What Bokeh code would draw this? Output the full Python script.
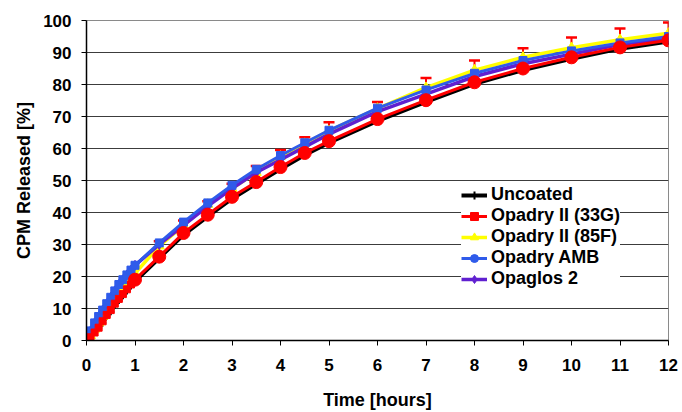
from bokeh.plotting import figure
from bokeh.models import (Range1d, FixedTicker, Legend, LegendItem, Whisker,
                          TeeHead, ColumnDataSource)
from bokeh.embed import file_html
from bokeh.resources import INLINE

# ---- data ----
time_h = [0, 0.083, 0.167, 0.25, 0.333, 0.417, 0.5, 0.583, 0.667, 0.75, 0.833,
          0.917, 1, 1.5, 2, 2.5, 3, 3.5, 4, 4.5, 5, 6, 7, 8, 9, 10, 11, 12]

uncoated = [0, 1, 2.5, 4, 5.5, 7.5, 9, 11, 12.5, 14, 15.5, 17, 18.5, 25.8, 33.0,
            38.8, 44.3, 49.0, 53.6, 58.0, 61.8, 68.6, 74.6, 80.2, 84.5, 88.0,
            91.2, 93.4]
opadry_33g = [0, 1, 2.5, 4, 6, 8, 9.5, 11.5, 13, 14.5, 16, 17.5, 19, 26.2, 33.6,
              39.3, 44.9, 49.5, 54.2, 58.6, 62.3, 69.2, 75.1, 80.7, 85.0, 88.5,
              91.6, 93.8]
opadry_85f = [0, 1.5, 3.5, 5.5, 7.5, 9.5, 11.5, 13, 15, 16.5, 18, 19.5, 21, 29.5,
              36.0, 42.5, 47.5, 52.5, 57.5, 61.5, 65.5, 72.5, 79.0, 84.5, 88.5,
              91.5, 94.0, 96.0]
opadry_amb = [0, 3, 5.5, 7.5, 9.5, 11.5, 13.5, 15.5, 17.5, 19, 20.5, 22, 23.5,
              30.5, 37.0, 43.0, 48.5, 53.5, 57.8, 61.8, 65.7, 72.6, 78.3, 83.5,
              87.5, 90.5, 93.0, 95.0]
opaglos_2 = [0, 3, 5.5, 7.5, 9.5, 11.5, 13.5, 15.5, 17.5, 19, 20.5, 22, 23.5,
             30.0, 36.0, 42.0, 47.5, 52.5, 56.5, 60.5, 64.5, 71.5, 77.0, 82.5,
             86.5, 89.5, 92.5, 94.5]

# upper error bar ends (drawn from Opadry II (33G) points)
err_time = [1.5, 2, 2.5, 3, 3.5, 4, 4.5, 5, 6, 7, 8, 9, 10, 11, 12]
err_top = [31.0, 37.5, 43.5, 49.0, 54.5, 59.5, 63.5, 68.2, 74.5, 82.0, 87.5,
           91.3, 94.7, 97.5, 99.4]

series_names = ["Uncoated", "Opadry II (33G)", "Opadry II (85F)", "Opadry AMB",
                "Opaglos 2"]
y_ticks = list(range(0, 101, 10))
x_ticks = list(range(0, 13))

FONT = "Liberation Sans"

p = figure(width=682, height=412, output_backend="svg", toolbar_location=None,
           x_range=Range1d(0, 12), y_range=Range1d(0, 100),
           min_border_left=86, min_border_right=14, min_border_top=20,
           min_border_bottom=71)
p.background_fill_color = "white"
p.border_fill_color = "white"
p.outline_line_color = "#8a8a8a"
p.xgrid.grid_line_color = None
p.ygrid.grid_line_color = "#3c3c3c"
p.ygrid.grid_line_width = 1

p.xaxis.ticker = FixedTicker(ticks=x_ticks)
p.yaxis.ticker = FixedTicker(ticks=y_ticks)
for ax in (p.xaxis[0], p.yaxis[0]):
    ax.axis_line_color = "black"
    ax.axis_line_width = 1.5
    ax.major_tick_line_color = "black"
    ax.major_tick_in = 0
    ax.major_tick_out = 5
    ax.minor_tick_line_color = None
    ax.major_label_text_font = FONT
    ax.major_label_text_font_style = "bold"
    ax.major_label_text_font_size = "17px"
    ax.major_label_text_color = "black"
    ax.axis_label_text_font = FONT
    ax.axis_label_text_font_style = "bold"
    ax.axis_label_text_font_size = "18px"
    ax.axis_label_text_color = "black"

p.xaxis.axis_label = "Time [hours]"
p.yaxis.axis_label = "CPM Released [%]"
p.xaxis.major_label_standoff = 13
p.xaxis.axis_label_standoff = 16
p.yaxis.major_label_standoff = 10
p.yaxis.axis_label_standoff = 6

src = ColumnDataSource(dict(t=time_h, unc=uncoated, r=opadry_33g, y=opadry_85f,
                            b=opadry_amb, pu=opaglos_2))
src.data["rm"] = ["square" if tt < 1 else "circle" for tt in time_h]
src.data["rs"] = [7 if tt < 1 else 13 for tt in time_h]

l0 = p.line("t", "unc", source=src, line_color="black", line_width=4)
m0 = p.scatter("t", "unc", source=src, marker="cross", size=7,
               line_color="black", line_width=2)

l2 = p.line("t", "y", source=src, line_color="#FFFF00", line_width=3.5)
m2 = p.scatter("t", "y", source=src, marker="triangle", size=10,
               fill_color="#FFFF00", line_color="#FFFF00")

l4 = p.line("t", "pu", source=src, line_color="#6020D0", line_width=3.5)
m4 = p.scatter("t", "pu", source=src, marker="diamond", size=10,
               fill_color="#6020D0", line_color="#6020D0")

l3 = p.line("t", "b", source=src, line_color="#2F5BEA", line_width=3)
m3 = p.scatter("t", "b", source=src, marker="square", size=8,
               fill_color="#2F5BEA", line_color="#2F5BEA")

l1 = p.line("t", "r", source=src, line_color="#FF0000", line_width=3)
m1 = p.scatter("t", "r", source=src, marker="rm", size="rs",
               fill_color="#FF0000", line_color="#FF0000")

# error bars
base_lookup = dict(zip(time_h, opadry_33g))
err_src = ColumnDataSource(dict(t=err_time,
                                lower=[base_lookup[tt] for tt in err_time],
                                upper=err_top))
wh = Whisker(base="t", lower="lower", upper="upper", source=err_src,
             dimension="height", line_color="#FF0000", line_width=2,
             upper_head=TeeHead(size=11, line_color="#FF0000", line_width=2.5),
             lower_head=None)
p.add_layout(wh)

# small markers for legend rows
lm1 = p.scatter([-10], [-10], marker="square", size=6, fill_color="#FF0000",
                line_color="#FF0000")
lm2 = p.scatter([-10], [-10], marker="triangle", size=8, fill_color="#FFFF00",
                line_color="#FFFF00")
lm3 = p.scatter([-10], [-10], marker="circle", size=6, fill_color="#2F5BEA",
                line_color="#2F5BEA")
lm4 = p.scatter([-10], [-10], marker="diamond", size=8, fill_color="#6020D0",
                line_color="#6020D0")

legend_items = [
    LegendItem(label=series_names[0], renderers=[l0, m0]),
    LegendItem(label=series_names[1], renderers=[l1, lm1]),
    LegendItem(label=series_names[2], renderers=[l2, lm2]),
    LegendItem(label=series_names[3], renderers=[l3, lm3]),
    LegendItem(label=series_names[4], renderers=[l4, lm4]),
]

legend = Legend(items=legend_items, location=(375, 51))
legend.background_fill_color = "white"
legend.background_fill_alpha = 1.0
legend.border_line_color = None
legend.label_text_font = FONT
legend.label_text_font_style = "bold"
legend.label_text_font_size = "18px"
legend.label_text_color = "black"
legend.glyph_width = 26
legend.glyph_height = 20
legend.label_height = 20
legend.spacing = 0
legend.padding = 7
legend.label_standoff = 4
legend.margin = 0
p.add_layout(legend, "center")

open("out.html", "w").write(file_html(p, INLINE))
